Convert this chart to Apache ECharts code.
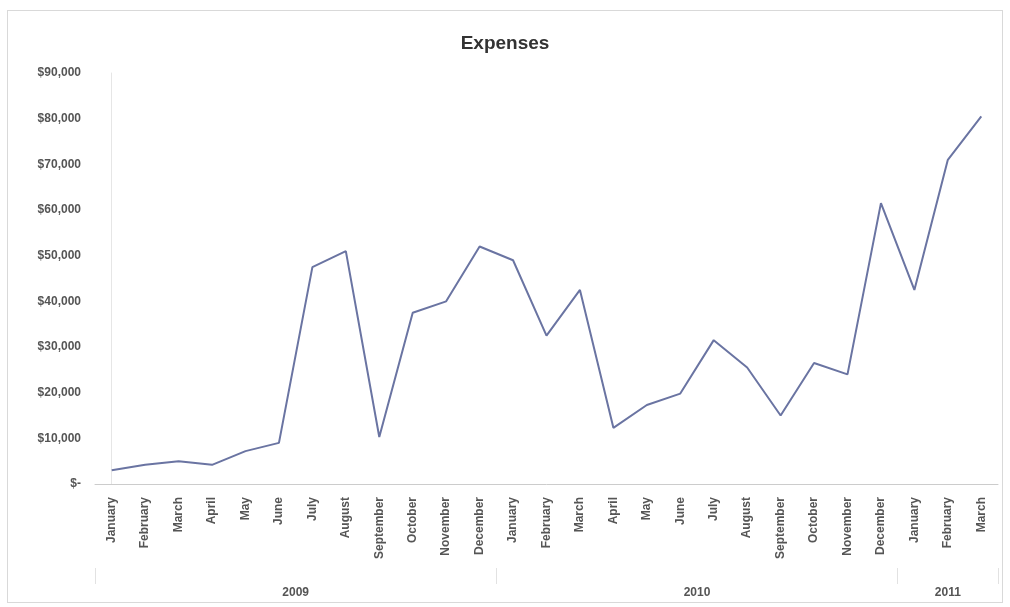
<!DOCTYPE html>
<html>
<head>
<meta charset="utf-8">
<title>Expenses</title>
<script src="https://cdn.jsdelivr.net/npm/echarts@6/dist/echarts.min.js"></script>
<style>
	body { margin: 0; background: #fff; }
	#frame { position: absolute; left: 7px; top: 10px; width: 996px; height: 593px; border: 1px solid #d9d9d9; box-sizing: border-box; }
	#main { position: absolute; left: 0; top: 0; width: 1010px; height: 607px; }
</style>
</head>
<body>
<div id="frame"></div>
<div id="main"></div>
<script>
// months, 2009-01 .. 2011-03
var months = ['January', 'February', 'March', 'April', 'May', 'June', 'July', 'August', 'September', 'October', 'November', 'December',
	'January', 'February', 'March', 'April', 'May', 'June', 'July', 'August', 'September', 'October', 'November', 'December',
	'January', 'February', 'March'];
var years = ['2009', '2010', '2011'];
// where each year label sits (category index), and the group borders
var yearCenters = [5.5, 17.5, 25];
var yearBorders = [-0.5, 11.5, 23.5, 26.5];
var expenses = [3000, 4200, 5000, 4200, 7200, 9000, 47500, 51000, 10300, 37500, 40000, 52000,
	49000, 32500, 42500, 12300, 17300, 19800, 31500, 25500, 15000, 26500, 24000, 61500,
	42500, 71000, 80500];
var yTicks = ['$-', '$10,000', '$20,000', '$30,000', '$40,000', '$50,000', '$60,000', '$70,000', '$80,000', '$90,000'];

function initChart() {
	var chart = echarts.init(document.getElementById('main'));
	chart.setOption({
		animation : false,
		title : {
			text : 'Expenses',
			left : 'center',
			top : 29,
			textStyle : { fontFamily : 'Liberation Sans', fontSize : 19, fontWeight : 'bold', color : '#333' }
		},
		grid : { left : 95, right : 12, top : 73, bottom : 123 },
		xAxis : [ {
			type : 'category',
			data : months,
			boundaryGap : true,
			axisLine : { lineStyle : { color : '#ccc' } },
			axisTick : { show : false },
			axisLabel : {
				interval : 0,
				rotate : 90,
				margin : 13,
				fontFamily : 'Liberation Sans',
				fontSize : 12,
				fontWeight : 'bold',
				color : '#555'
			}
		}, {
			type : 'value',
			position : 'bottom',
			offset : 100,
			min : -0.5,
			max : 26.5,
			splitLine : { show : false },
			axisLine : { show : false },
			axisTick : {
				show : true,
				customValues : yearBorders,
				length : 16,
				inside : true,
				lineStyle : { color : '#e2e2e2' }
			},
			axisLabel : {
				customValues : yearCenters,
				margin : 3,
				fontFamily : 'Liberation Sans',
				fontSize : 12,
				fontWeight : 'bold',
				color : '#555',
				formatter : function(v) {
					return years[yearCenters.indexOf(v)];
				}
			}
		} ],
		yAxis : {
			type : 'value',
			min : 0,
			max : 90000,
			interval : 10000,
			splitLine : { show : false },
			axisTick : { show : false },
			axisLine : { show : true, lineStyle : { color : '#e6e6e6' } },
			axisLabel : {
				margin : 14,
				fontFamily : 'Liberation Sans',
				fontSize : 12,
				fontWeight : 'bold',
				color : '#555',
				formatter : function(v) {
					return yTicks[Math.round(v / 10000)];
				}
			}
		},
		series : [ {
			name : 'Expenses',
			type : 'line',
			data : expenses,
			symbol : 'none',
			lineStyle : { color : '#6a74a2', width : 2 }
		} ]
	});
}
initChart();
</script>
</body>
</html>
